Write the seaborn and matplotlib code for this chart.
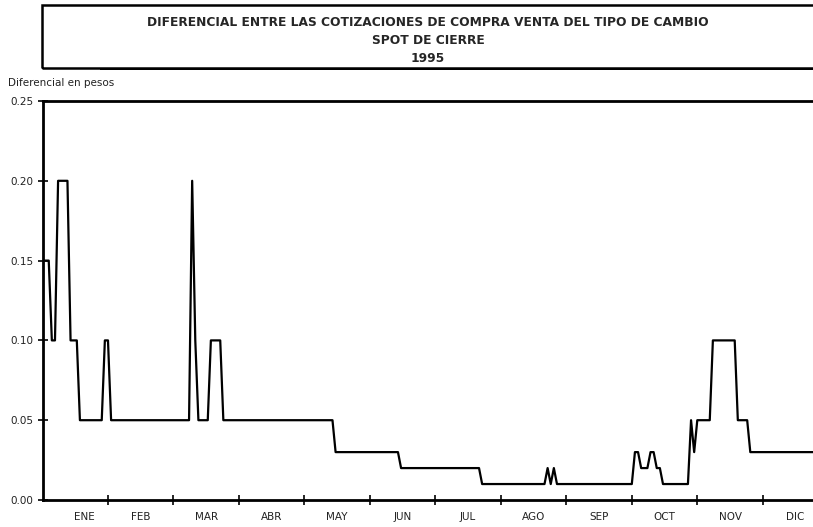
import numpy as np
import pandas as pd
import matplotlib.pyplot as plt
import seaborn as sns
from matplotlib.patches import Rectangle

# ==========================
# Data: daily spread, run-length encoded (value, number of trading days)
# ==========================
spread_values = [0.15, 0.10, 0.20, 0.10, 0.05, 0.10, 0.05, 0.20, 0.10, 0.05,
                 0.10, 0.05, 0.03, 0.02, 0.01, 0.02, 0.01, 0.02, 0.01, 0.03,
                 0.02, 0.03, 0.02, 0.01, 0.05, 0.03, 0.05, 0.10, 0.05, 0.03]
spread_days = [3, 2, 4, 3, 8, 2, 26, 1, 1, 4,
               4, 36, 21, 26, 21, 1, 1, 1, 25, 2,
               3, 2, 2, 9, 1, 1, 5, 8, 4, 25]

months = ['ENE', 'FEB', 'MAR', 'ABR', 'MAY', 'JUN',
          'JUL', 'AGO', 'SEP', 'OCT', 'NOV', 'DIC']
DAYS_PER_MONTH = 21

title_lines = ['DIFERENCIAL ENTRE LAS COTIZACIONES DE COMPRA VENTA DEL TIPO DE CAMBIO',
               'SPOT DE CIERRE', '1995']
y_label = 'Diferencial en pesos'

daily = np.repeat(spread_values, spread_days)
df = pd.DataFrame({'dia': np.arange(len(daily)), 'diferencial': daily})

# ==========================
# Figure
# ==========================
sns.set_style('ticks')
plt.rcParams['font.family'] = ['DejaVu Sans']

W, H = 813, 527
fig = plt.figure(figsize=(W / 100, H / 100), dpi=100)
ax = fig.add_axes([42.5 / W, 1 - 500 / H, 1 - 42.5 / W, (500 - 101) / H])

sns.lineplot(data=df, x='dia', y='diferencial', ax=ax, color='black',
             linewidth=1.6, legend=False)

ax.set_xlim(0, (W - 43.5) / 3.114)
ax.set_ylim(0, 0.25)
yt = np.arange(0, 0.251, 0.05)
ax.set_yticks(yt)
ax.set_yticklabels([f'{v:.2f}' for v in yt])

# month boundaries as major ticks, month names centred in between
ax.set_xticks([DAYS_PER_MONTH * k for k in range(1, 12)])
ax.set_xticklabels([])
label_pos = [DAYS_PER_MONTH * k + DAYS_PER_MONTH / 2 for k in range(12)]
label_pos[0] += 3
ax.set_xticks(label_pos, minor=True)
ax.set_xticklabels(months, minor=True)
ax.tick_params(axis='x', which='minor', length=0, pad=9, labelsize=7.5, labelcolor='#222222')
ax.tick_params(axis='x', which='major', direction='inout', length=7, width=1.4)
ax.tick_params(axis='y', direction='inout', length=7, width=1.4, pad=3,
               labelsize=7.5, labelcolor='#222222')
ax.set_xlabel('')
ax.set_ylabel('')

for side in ['left', 'bottom', 'top']:
    ax.spines[side].set_visible(True)
    ax.spines[side].set_linewidth(2)
    ax.spines[side].set_color('black')
ax.spines['right'].set_visible(False)

fig.text(8 / W, 1 - 83 / H, y_label, fontsize=7.5, color='#222222',
         ha='left', va='center')

# Title box with a slight shadow along the bottom
fig.patches.append(Rectangle((42 / W, 1 - 68 / H), 1.2, 63 / H, transform=fig.transFigure,
                             fill=False, edgecolor='black', linewidth=1.8))
fig.patches.append(Rectangle((100 / W, 1 - 70 / H), 1.2, 2 / H, transform=fig.transFigure,
                             facecolor='black', edgecolor='none'))
for line, ypix in zip(title_lines, [23, 41, 58]):
    fig.text(428 / W, 1 - ypix / H, line, fontsize=8.8, fontweight='bold',
             ha='center', va='center')

plt.savefig('out.png', dpi=100)
plt.close()
